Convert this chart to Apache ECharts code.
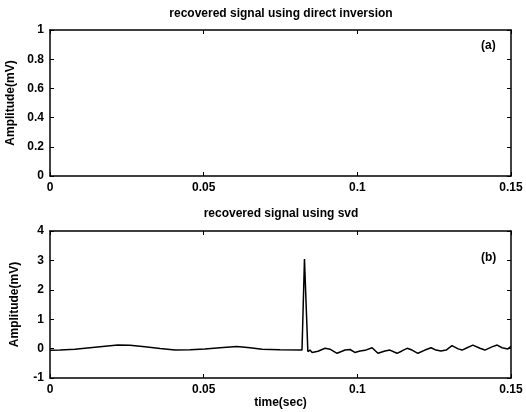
<!DOCTYPE html>
<html>
<head>
<meta charset="utf-8">
<script src="https://cdn.jsdelivr.net/npm/echarts@6/dist/echarts.min.js"></script>
<style>
  html, body { margin: 0; padding: 0; background: #fff; }
  #main { width: 526px; height: 412px; }
</style>
</head>
<body>
<div id="main"></div>
<script>
// time axis (sec) and amplitude (mV)
var timeB = [0, 0.0033, 0.0081, 0.0130, 0.0179, 0.0221, 0.0260, 0.0309, 0.0358, 0.0407,
  0.0456, 0.0504, 0.0553, 0.0608, 0.0651, 0.0690, 0.0748, 0.0820, 0.0828, 0.0839,
  0.0846, 0.0853, 0.0872, 0.0895, 0.0911, 0.0934, 0.0960, 0.0976, 0.0992, 0.1009,
  0.1025, 0.1048, 0.1067, 0.1090, 0.1106, 0.1129, 0.1145, 0.1162, 0.1178, 0.1197,
  0.1220, 0.1240, 0.1256, 0.1272, 0.1289, 0.1308, 0.1328, 0.1341, 0.1357, 0.1376,
  0.1399, 0.1415, 0.1438, 0.1455, 0.1471, 0.1490, 0.1500];
var ampB = [-0.06, -0.05, -0.02, 0.03, 0.08, 0.12, 0.11, 0.06, 0.00, -0.05,
  -0.04, -0.01, 0.03, 0.07, 0.03, -0.02, -0.04, -0.05, 3.05, -0.10,
  -0.05, -0.13, -0.09, 0.01, -0.02, -0.16, -0.05, -0.03, -0.13, -0.08,
  -0.06, 0.03, -0.16, -0.08, -0.05, -0.16, -0.08, 0.01, -0.05, -0.16,
  -0.05, 0.03, -0.05, -0.08, -0.05, 0.10, -0.01, -0.05, 0.03, 0.12,
  0.01, -0.05, 0.06, 0.12, 0.03, -0.01, 0.08];
// panel (a) shows nothing inside its box
var ampA = [];

var titles = ['recovered signal using direct inversion', 'recovered signal using svd'];
var panelTags = ['(a)', '(b)'];
var yLabel = 'Amplitude(mV)';
var xLabel = 'time(sec)';

var font = 'Liberation Sans, Arial, sans-serif';
var txt = { color: '#000', fontFamily: font, fontWeight: 'bold', fontSize: 12 };

function mainX(grid, name) {
  return {
    type: 'value', gridIndex: grid, min: 0, max: 0.15, interval: 0.05,
    name: name, nameLocation: 'middle', nameGap: 18,
    nameTextStyle: txt,
    axisLine: { show: true, onZero: false, lineStyle: { color: '#000', width: 1.5 } },
    axisTick: { show: true, inside: true, length: 4, lineStyle: { color: '#000' } },
    axisLabel: Object.assign({ margin: 6 }, txt),
    splitLine: { show: false }
  };
}
function mainY(grid, min, max, step) {
  return {
    type: 'value', gridIndex: grid, min: min, max: max, interval: step,
    name: yLabel, nameLocation: 'middle', nameRotate: 90, nameGap: 29,
    nameTextStyle: txt,
    axisLine: { show: true, onZero: false, lineStyle: { color: '#000', width: 1.5 } },
    axisTick: { show: true, inside: true, length: 4, lineStyle: { color: '#000' } },
    axisLabel: Object.assign({ margin: 6 }, txt),
    splitLine: { show: false }
  };
}
// mirror axes give the box its top and right ticks
function mirrorX(grid) {
  return {
    type: 'value', gridIndex: grid, position: 'top', min: 0, max: 0.15, interval: 0.05,
    axisLine: { show: true, onZero: false, lineStyle: { color: '#000', width: 1.5 } },
    axisTick: { show: true, inside: true, length: 4, lineStyle: { color: '#000' } },
    axisLabel: { show: false }, splitLine: { show: false }
  };
}
function mirrorY(grid, min, max, step) {
  return {
    type: 'value', gridIndex: grid, position: 'right', min: min, max: max, interval: step,
    axisLine: { show: true, onZero: false, lineStyle: { color: '#000', width: 1.5 } },
    axisTick: { show: true, inside: true, length: 4, lineStyle: { color: '#000' } },
    axisLabel: { show: false }, splitLine: { show: false }
  };
}

var chart = echarts.init(document.getElementById('main'), null, { renderer: 'canvas' });

var option = {
  backgroundColor: '#fff',
  animation: false,
  title: [
    { text: titles[0], left: 281, top: 8, textAlign: 'center', padding: 0, textStyle: txt },
    { text: titles[1], left: 281, top: 208, textAlign: 'center', padding: 0, textStyle: txt }
  ],
  grid: [
    { left: 50, right: 15, top: 30, height: 146, outerBoundsMode: 'none' },
    { left: 50, right: 15, top: 231, height: 147, outerBoundsMode: 'none' }
  ],
  xAxis: [mainX(0, ''), mainX(1, xLabel), mirrorX(0), mirrorX(1)],
  yAxis: [mainY(0, 0, 1, 0.2), mainY(1, -1, 4, 1), mirrorY(0, 0, 1, 0.2), mirrorY(1, -1, 4, 1)],
  series: [
    {
      type: 'line', xAxisIndex: 0, yAxisIndex: 0, showSymbol: false,
      lineStyle: { color: '#000', width: 1.5 },
      data: ampA
    },
    {
      type: 'line', xAxisIndex: 1, yAxisIndex: 1, showSymbol: false,
      lineStyle: { color: '#000', width: 1.5 },
      data: timeB.map(function (t, i) { return [t, ampB[i]]; })
    }
  ],
  graphic: [
    { type: 'text', left: 481, top: 40, style: { text: panelTags[0], fill: '#000', font: 'bold 12px ' + font } },
    { type: 'text', left: 481, top: 252, style: { text: panelTags[1], fill: '#000', font: 'bold 12px ' + font } }
  ]
};

chart.setOption(option);
</script>
</body>
</html>
